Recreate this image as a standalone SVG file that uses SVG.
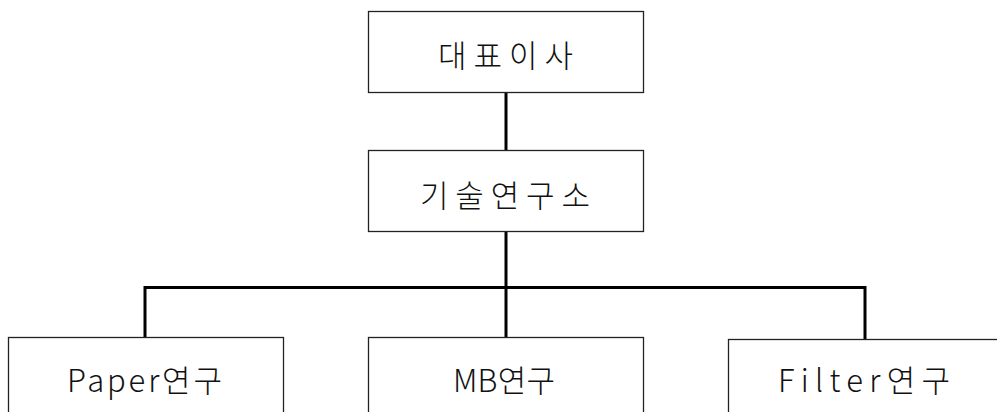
<svg xmlns="http://www.w3.org/2000/svg" width="997" height="412" viewBox="0 0 997 412">
<style>
.box{fill:#fff;stroke:#222;stroke-width:1.3}
.lbl{font-family:"Noto Sans CJK KR","Noto Sans",sans-serif;font-size:31px;fill:#111;text-anchor:middle;font-weight:300}
.conn{stroke:#000;stroke-width:3;fill:none}
</style>
<rect width="997" height="412" fill="#fff"/>
<g id="connectors">
<line class="conn" x1="506" y1="93" x2="506" y2="150"/>
<line class="conn" x1="506" y1="232" x2="506" y2="338"/>
<polyline class="conn" points="145,338 145,287.5 865,287.5 865,339"/>
</g>
<g id="ceo">
<rect class="box" x="368.5" y="11.5" width="275" height="81"/>
<text class="lbl" x="505.5" y="67" textLength="135" lengthAdjust="spacing">대표이사</text>
</g>
<g id="lab">
<rect class="box" x="368.5" y="150.5" width="275" height="81"/>
<text class="lbl" x="505" y="207" textLength="170" lengthAdjust="spacing">기술연구소</text>
</g>
<g id="paper">
<rect class="box" x="8.5" y="337.5" width="275" height="90"/>
<text class="lbl" x="144.5" y="392" textLength="155" lengthAdjust="spacing">Paper연구</text>
</g>
<g id="mb">
<rect class="box" x="368.5" y="337.5" width="275" height="90"/>
<text class="lbl" x="504" y="392" textLength="102" lengthAdjust="spacing">MB연구</text>
</g>
<g id="filter">
<rect class="box" x="728.5" y="339.5" width="275" height="90"/>
<text class="lbl" x="864" y="392" textLength="172" lengthAdjust="spacing">Filter연구</text>
</g>
</svg>
